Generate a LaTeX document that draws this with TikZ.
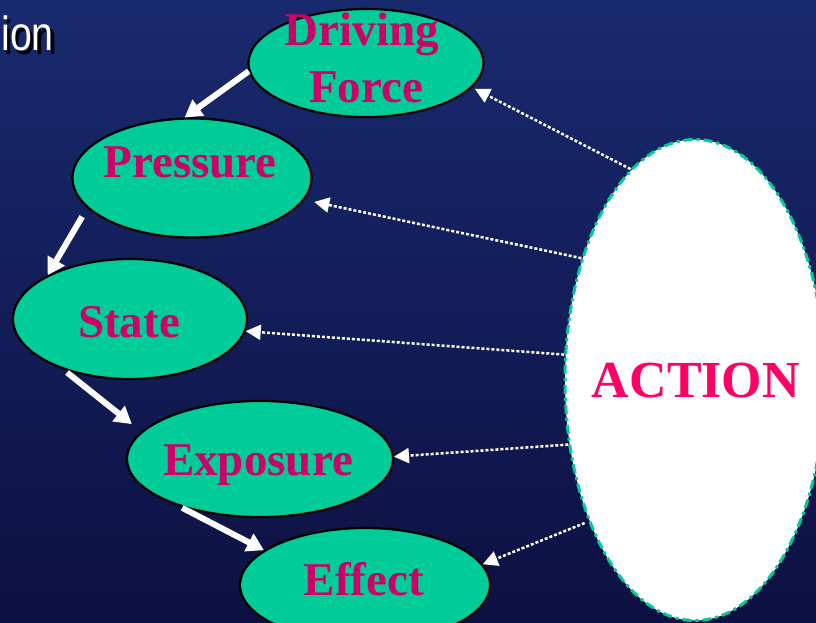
\documentclass[tikz,border=0pt]{standalone}
\usepackage{fontspec}
\setmainfont{Liberation Serif}
\newfontfamily\titlefont{Liberation Sans}
\usetikzlibrary{shapes.geometric,arrows.meta}
\definecolor{bgtop}{RGB}{24,42,110}
\definecolor{bgmid}{RGB}{32,52,134}
\definecolor{bgbot}{RGB}{13,16,66}
\definecolor{nodegreen}{RGB}{0,204,153}
\definecolor{txtred}{RGB}{204,0,102}
\definecolor{actred}{RGB}{255,0,102}
\tikzset{
  stage/.style={ellipse, draw=black, line width=2.2pt, fill=nodegreen, inner sep=0pt},
  stagetxt/.style={anchor=base, text=txtred, font=\fontsize{47}{47}\selectfont\bfseries, inner sep=0pt},
  flow/.style={draw=white, line width=6pt, -{Triangle[length=17pt,width=19pt]}},
  act/.style={draw=white, line width=2.5pt, dash pattern=on 3pt off 2pt, -{Triangle[length=15pt,width=15pt]}}
}
\begin{document}
\begin{tikzpicture}[x=1pt,y=1pt]
\useasboundingbox (0,0) rectangle (816,-622);
\clip (0,0) rectangle (816,-622);
\shade[top color=bgtop, middle color=bgmid, bottom color=bgbot] (0,0) rectangle (816,-622);
% title fragment with shadow
\node[anchor=base east, font=\titlefont\fontsize{48}{48}\selectfont, xscale=0.82, inner sep=0pt] (title) at (54,-50)
  {\rlap{\hspace{4pt}\raisebox{-4pt}[0pt][0pt]{\color{black}ion}}\color{white}ion};
% ACTION
\node[ellipse, fill=white, draw=nodegreen, line width=3pt, dash pattern=on 9pt off 4pt on 3pt off 4pt,
      minimum width=260pt, minimum height=481pt, inner sep=0pt] (action) at (695,-380) {};
\node[anchor=base, text=actred, font=\fontsize{52}{52}\selectfont\bfseries, inner sep=0pt] (actiontxt) at (696,-397) {ACTION};
% stages
\node[stage, minimum width=235pt, minimum height=108pt] (drive) at (366,-63) {};
\node[stage, minimum width=239pt, minimum height=119pt] (press) at (192,-178) {};
\node[stage, minimum width=234pt, minimum height=120pt] (state) at (130,-319) {};
\node[stage, minimum width=266pt, minimum height=116pt] (expo) at (260,-459) {};
\node[stage, minimum width=250pt, minimum height=114pt] (effect) at (365,-585) {};
\node[stagetxt] (drivetxt) at (362,-45) {Driving};
\node[stagetxt] (forcetxt) at (366,-102) {Force};
\node[stagetxt] (presstxt) at (190,-177) {Pressure};
\node[stagetxt] (statetxt) at (129,-337) {State};
\node[stagetxt] (expotxt) at (258,-475) {Exposure};
\node[stagetxt] (effecttxt) at (364,-595) {Effect};
% action arrows
\draw[act, shorten >=3pt] (action.107.9) -- (drive.-13.7);
\draw[act, shorten >=10pt] (action.133.5) -- (press.-11.8);
\draw[act] (action.169.1) -- (state.-6.1);
\draw[act] (action.207.1) -- (expo.1.7);
\draw[act, shorten <=4pt] (action.233.7) -- (effect.10.6);
% flow arrows
\draw[flow] (drive.184.4) -- (press.97.9);
\draw[flow, shorten <=10pt] (press.196.9) -- (state.152.9);
\draw[flow, shorten <=5pt, shorten >=12pt] (state.217.1) -- (expo.167);
\draw[flow, shorten <=4pt] (expo.210.9) -- (effect.161.7);
\end{tikzpicture}
\end{document}
